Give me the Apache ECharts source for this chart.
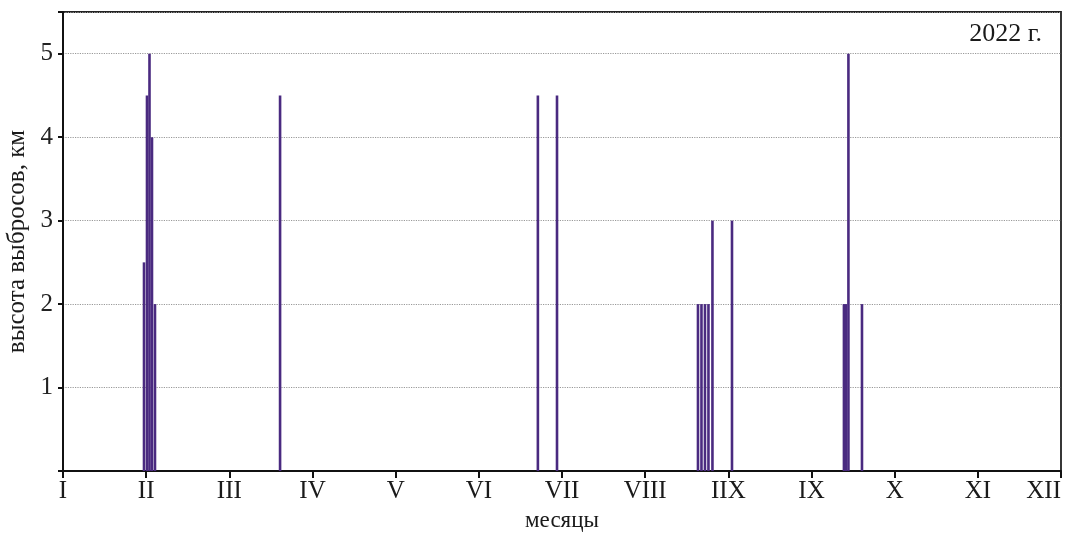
<!DOCTYPE html>
<html>
<head>
<meta charset="utf-8">
<script src="https://cdn.jsdelivr.net/npm/echarts@6/dist/echarts.min.js"></script>
<style>
html,body{margin:0;padding:0;background:#fff;}
#chart{width:1069px;height:536px;}
</style>
</head>
<body>
<div id="chart"></div>
<script>
// month tick labels (as printed in the source figure)
const monthLabels = ['I','II','III','IV','V','VI','VII','VIII','IIX','IX','X','XI','XII'];
// event positions in months from the start of the year (I = 0)
const eventTimes = [0.974, 1.01, 1.04, 1.07, 1.106, 2.61, 5.71, 5.94, 7.635, 7.677, 7.719, 7.761, 7.809, 8.044, 9.39, 9.414, 9.444, 9.607];
// ash emission heights, km
const eventHeights = [2.5, 4.5, 5, 4, 2, 4.5, 4.5, 4.5, 2, 2, 2, 2, 3, 3, 2, 2, 5, 2];
const yearLabel = '2022 г.';
const xName = 'месяцы';
const yName = 'высота выбросов, км';

const chart = echarts.init(document.getElementById('chart'));
const font = 'Liberation Serif, Times New Roman, serif';
const data = eventTimes.map((t, i) => [t, eventHeights[i]]);

chart.setOption({
  animation: false,
  backgroundColor: '#fff',
  grid: {
    left: 63, right: 8, top: 12, bottom: 65,
    containLabel: false, outerBoundsMode: 'none',
    show: true, borderColor: '#222', borderWidth: 1.8, backgroundColor: 'transparent'
  },
  xAxis: {
    type: 'value', min: 0, max: 12, interval: 1,
    name: xName, nameLocation: 'middle', nameGap: 38,
    nameTextStyle: { fontFamily: font, fontSize: 23, color: '#1a1a1a' },
    axisLine: { show: true, lineStyle: { color: '#111', width: 2 } },
    axisTick: { show: true, length: 7, lineStyle: { color: '#111', width: 2 } },
    axisLabel: {
      margin: 8, fontFamily: font, fontSize: 25, color: '#1a1a1a',
      alignMaxLabel: 'right',
      formatter: v => monthLabels[Math.round(v)] ?? ''
    },
    splitLine: { show: false }
  },
  yAxis: {
    type: 'value', min: 0, max: 5.5, interval: 1,
    name: yName, nameLocation: 'middle', nameGap: 26,
    nameTextStyle: { fontFamily: font, fontSize: 25, color: '#1a1a1a' },
    axisLine: { show: true, lineStyle: { color: '#111', width: 2 } },
    axisTick: { show: true, length: 5, lineStyle: { color: '#111', width: 2 } },
    axisLabel: {
      margin: 10, fontFamily: font, fontSize: 25, color: '#222',
      formatter: v => (v > 0 && Number.isInteger(v)) ? String(v) : ''
    },
    splitLine: { show: true, lineStyle: { color: '#999', type: 'dotted', width: 1.2 } }
  },
  series: [{
    type: 'bar',
    data: data,
    barWidth: 2.6,
    itemStyle: { color: '#4a2a80' },
    silent: true
  }],
  graphic: [{
    type: 'text', right: 27, top: 21,
    style: { text: yearLabel, font: '26px ' + font, fill: '#1a1a1a' }
  }]
});
</script>
</body>
</html>
